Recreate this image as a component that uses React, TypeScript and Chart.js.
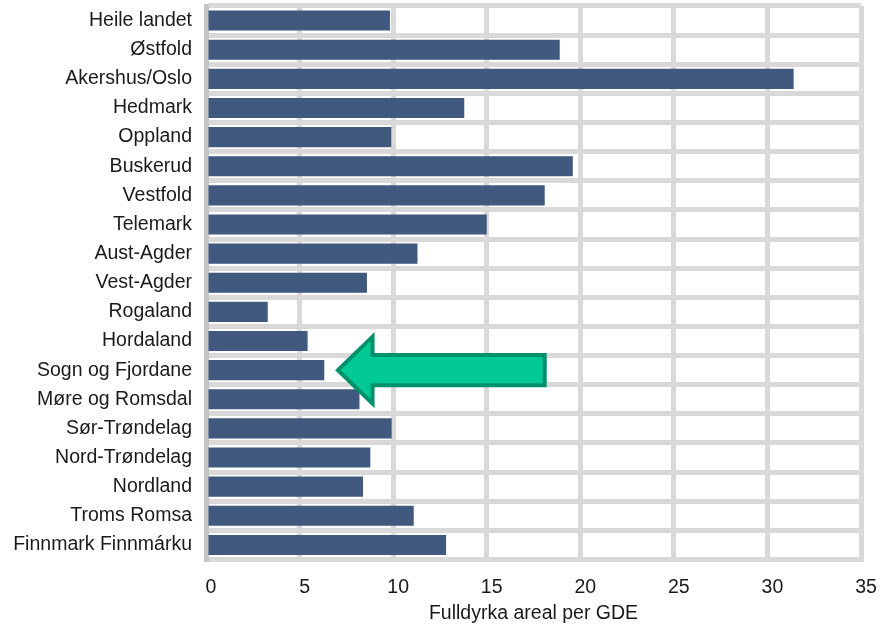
import React, { useEffect, useRef } from "react";
import { Chart, registerables } from "chart.js";

Chart.register(...registerables);

const categories: string[] = [
  "Heile landet",
  "Østfold",
  "Akershus/Oslo",
  "Hedmark",
  "Oppland",
  "Buskerud",
  "Vestfold",
  "Telemark",
  "Aust-Agder",
  "Vest-Agder",
  "Rogaland",
  "Hordaland",
  "Sogn og Fjordane",
  "Møre og Romsdal",
  "Sør-Trøndelag",
  "Nord-Trøndelag",
  "Nordland",
  "Troms Romsa",
  "Finnmark Finnmárku",
];

const values: number[] = [
  9.83, 18.9, 31.4, 13.8, 9.9, 19.6, 18.1, 15.0, 11.3, 8.6, 3.3, 5.43, 6.32, 8.2,
  9.92, 8.78, 8.39, 11.1, 12.83,
];

const xTicksMin = 0;
const xTicksMax = 35;
const xTickStep = 5;
const xTitle = "Fulldyrka areal per GDE";

// arrow annotation (in data units)
const arrowTarget = "Sogn og Fjordane";
const arrowTipValue = 7.05;
const arrowHeadBaseValue = 8.9;
const arrowTailValue = 18.1;

const FONT = "'Liberation Sans', Arial, Helvetica, sans-serif";
const GRID = "#d9d9d9";

const arrowPlugin = {
  id: "arrowPlugin",
  afterDatasetsDraw(chart: any) {
    const x = chart.scales.x;
    const y = chart.scales.y;
    const idx = categories.indexOf(arrowTarget);
    const cy = y.getPixelForValue(idx);
    const row = Math.abs(y.getPixelForValue(1) - y.getPixelForValue(0));
    const tip = x.getPixelForValue(arrowTipValue);
    const head = x.getPixelForValue(arrowHeadBaseValue);
    const tail = x.getPixelForValue(arrowTailValue);
    const hh = row * 1.15;
    const sh = row * 0.52;
    const ctx = chart.ctx;
    ctx.save();
    ctx.beginPath();
    ctx.moveTo(tip, cy);
    ctx.lineTo(head, cy - hh);
    ctx.lineTo(head, cy - sh);
    ctx.lineTo(tail, cy - sh);
    ctx.lineTo(tail, cy + sh);
    ctx.lineTo(head, cy + sh);
    ctx.lineTo(head, cy + hh);
    ctx.closePath();
    ctx.fillStyle = "#00c995";
    ctx.fill();
    ctx.lineWidth = 4;
    ctx.lineJoin = "miter";
    ctx.strokeStyle = "#00916a";
    ctx.stroke();
    ctx.restore();
  },
};

export default function App() {
  const canvasRef = useRef<HTMLCanvasElement | null>(null);

  useEffect(() => {
    if (!canvasRef.current) return;
    const chart = new Chart(canvasRef.current, {
      type: "bar",
      data: {
        labels: categories,
        datasets: [
          {
            data: values,
            backgroundColor: "#41587f",
            borderWidth: 0,
            barPercentage: 0.69,
            categoryPercentage: 1,
          },
        ],
      },
      options: {
        indexAxis: "y",
        responsive: false,
        animation: false,
        devicePixelRatio: 1,
        layout: { padding: { top: 6, right: 34, bottom: 0, left: 0 } },
        plugins: {
          legend: { display: false },
          tooltip: { enabled: false },
        },
        scales: {
          x: {
            type: "linear",
            min: xTicksMin,
            max: xTicksMax,
            ticks: {
              stepSize: xTickStep,
              color: "#1a1a1a",
              font: { family: FONT, size: 19.5 },
              padding: 16,
              labelOffset: 5,
            },
            grid: { color: GRID, lineWidth: 5, drawTicks: false },
            border: { color: GRID, width: 5 },
            title: {
              display: true,
              text: xTitle,
              color: "#1a1a1a",
              font: { family: FONT, size: 19.5 },
              padding: { top: 0, bottom: 0 },
            },
            afterFit(scale: any) {
              scale.height = 65.5;
              scale.paddingLeft = 0;
              scale.paddingRight = 0;
            },
          },
          y: {
            type: "category",
            ticks: {
              color: "#1a1a1a",
              font: { family: FONT, size: 19.5 },
              padding: 14,
              autoSkip: false,
            },
            grid: { color: GRID, lineWidth: 5, drawTicks: false, offset: true },
            border: { color: "#c4c4c4", width: 5 },
            afterFit(scale: any) {
              scale.width = 206;
              scale.paddingTop = 0;
              scale.paddingBottom = 0;
            },
          },
        },
      },
      plugins: [arrowPlugin],
    });
    return () => chart.destroy();
  }, []);

  return (
    <div
      style={{
        position: "fixed",
        left: 0,
        top: 0,
        width: 895,
        height: 625,
        background: "#ffffff",
      }}
    >
      <canvas ref={canvasRef} width={895} height={625} />
    </div>
  );
}
